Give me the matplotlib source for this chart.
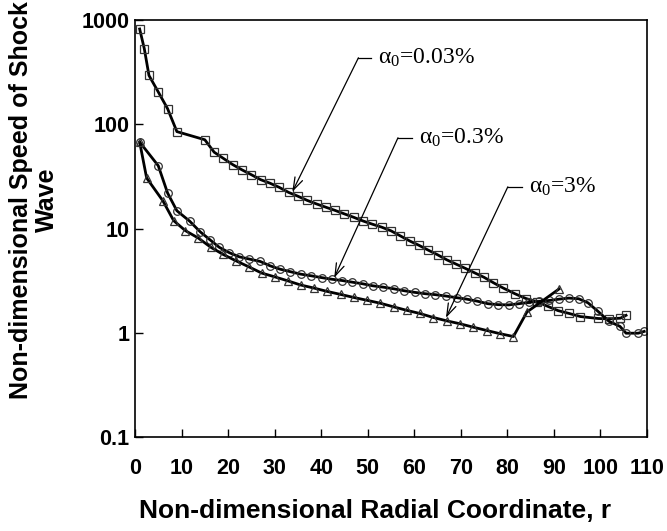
import matplotlib
matplotlib.use("Agg")
import matplotlib.pyplot as plt

# ---- data ----
r_sq = [1, 2, 3, 5, 7, 9, 15, 17, 19, 21, 23, 25, 27, 29, 31, 33, 35, 37, 39, 41,
        43, 45, 47, 49, 51, 53, 55, 57, 59, 61, 63, 65, 67, 69, 71, 73, 75, 77, 79,
        81.6, 84, 86.4, 88.7, 90.9, 93.3, 95.7, 99.5, 101.9, 104.3, 105.5]
v_sq = [820, 530, 294, 204, 141, 85, 71, 54, 47, 41, 36.5, 32.8, 29.4, 27.2, 24.8,
        22.2, 20.4, 18.6, 17.2, 16.0, 14.9, 13.8, 12.8, 11.8, 11.0, 10.3, 9.5, 8.5,
        7.6, 6.9, 6.2, 5.6, 5.0, 4.55, 4.14, 3.75, 3.4, 3.02, 2.7,
        2.37, 2.13, 1.98, 1.79, 1.63, 1.53, 1.43, 1.37, 1.36, 1.38, 1.47]

r_ci = [1, 5, 7, 9, 11.8, 14, 16.1, 18.1, 20.3, 22.4, 24.5, 26.9, 29, 31.1, 33.4,
        35.6, 37.8, 40.1, 42.3, 44.5, 46.6, 48.9, 51.1, 53.3, 55.6, 57.8, 60.1,
        62.3, 64.5, 66.8, 69.1, 71.3, 73.5, 75.8, 78, 80.3, 82.5, 84.7, 86.9, 89,
        91.1, 93.2, 95.3, 97.3, 99.5, 101.8, 104.2, 105.5, 108.1, 109.4]
v_ci = [67.5, 40, 21.9, 14.8, 11.7, 9.3, 7.8, 6.6, 5.85, 5.35, 5.1, 4.83, 4.39,
        4.08, 3.85, 3.65, 3.52, 3.38, 3.26, 3.17, 3.06, 2.95, 2.82, 2.74, 2.64,
        2.53, 2.44, 2.37, 2.32, 2.25, 2.17, 2.10, 2.01, 1.90, 1.86, 1.85, 1.9,
        1.96, 2.0, 2.04, 2.10, 2.15, 2.12, 1.94, 1.6, 1.29, 1.15, 0.99, 0.99, 1.03]

r_tr = [1, 2.5, 6, 8.3, 10.8, 13.6, 16.3, 18.9, 21.6, 24.4, 27.2, 30, 32.8, 35.6,
        38.5, 41.3, 44.2, 47, 49.8, 52.7, 55.6, 58.4, 61.2, 64.1, 67, 69.8, 72.7,
        75.6, 78.4, 81.3, 84.2, 91.1]
v_tr = [67.5, 30.5, 18.4, 11.9, 9.55, 8.1, 6.6, 5.65, 4.92, 4.3, 3.74, 3.44, 3.15,
        2.87, 2.68, 2.49, 2.33, 2.18, 2.05, 1.92, 1.77, 1.64, 1.53, 1.40, 1.30,
        1.22, 1.13, 1.05, 0.98, 0.92, 1.58, 2.63]

x_ticks = [0, 10, 20, 30, 40, 50, 60, 70, 80, 90, 100, 110]
y_ticks = [0.1, 1, 10, 100, 1000]
y_ticklabels = ["0.1", "1", "10", "100", "1000"]
labels = [r"$\mathrm{\alpha_0}$=0.03%", r"$\mathrm{\alpha_0}$=0.3%", r"$\mathrm{\alpha_0}$=3%"]

plt.rcParams["font.family"] = ["Liberation Sans", "DejaVu Sans"]
plt.rcParams["mathtext.fontset"] = "custom"
plt.rcParams["mathtext.rm"] = "Liberation Serif"
plt.rcParams["mathtext.it"] = "Liberation Serif:italic"

fig = plt.figure(figsize=(6.67, 5.31), dpi=100)
ax = fig.add_axes([135 / 667, 1 - 437 / 531, 512 / 667, 417 / 531])

line_kw = dict(color="black", lw=2.0, markerfacecolor="none",
               markeredgecolor="#333333", markeredgewidth=0.9)
ax.plot(r_sq, v_sq, marker="s", markersize=5.5, **line_kw)
ax.plot(r_ci, v_ci, marker="o", markersize=5.5, **line_kw)
ax.plot(r_tr, v_tr, marker="^", markersize=5.5, **line_kw)

ax.set_yscale("log")
ax.set_xlim(0, 110)
ax.set_ylim(0.1, 1000)
ax.set_xticks(x_ticks)
ax.set_xticklabels([str(t) for t in x_ticks], fontsize=15.5, fontweight="bold")
ax.set_yticks(y_ticks)
ax.set_yticklabels(y_ticklabels, fontsize=15.5, fontweight="bold")
ax.yaxis.set_minor_locator(matplotlib.ticker.NullLocator())
ax.tick_params(axis="both", direction="in", length=6, width=1, top=False, right=False)
ax.tick_params(axis="x", pad=15)
ax.tick_params(axis="y", pad=4)
for s in ax.spines.values():
    s.set_linewidth(1.2)

# annotations: (tip, elbow, end of horizontal segment)
ann = [((33.8, 22.5), (48.0, 434), (50.6, 434)),
       ((42.8, 3.37), (56.5, 74.2), (59.5, 74.2)),
       ((66.8, 1.39), (80.1, 25.1), (83.1, 25.1))]
for (tip, elbow, end), lab in zip(ann, labels):
    ax.annotate("", xy=tip, xytext=elbow,
                arrowprops=dict(arrowstyle="->,head_length=0.9,head_width=0.3",
                                lw=0.9, color="black", shrinkA=0, shrinkB=0))
    ax.plot([elbow[0], end[0]], [elbow[1], end[1]], color="black", lw=0.9)
    ax.text(end[0] + 1.6, end[1], lab, fontsize=17, va="center", ha="left",
            family="Liberation Serif")

fig.text(375 / 667, 1 - 511 / 531, "Non-dimensional Radial Coordinate, r",
         ha="center", va="center", fontsize=19, fontweight="bold")
fig.text(34 / 667, 1 - 200 / 531, "Non-dimensional Speed of Shock\nWave",
         ha="center", va="center", rotation=90, fontsize=18, fontweight="bold",
         multialignment="center", linespacing=1.1)

fig.savefig("out.png", dpi=100)
